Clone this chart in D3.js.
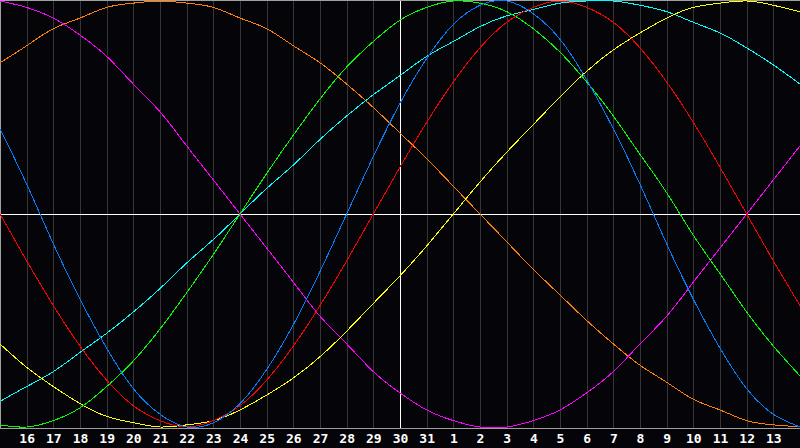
<!DOCTYPE html>
<html>
<head>
<meta charset="utf-8">
<script src="https://cdn.jsdelivr.net/npm/d3@7"></script>
<style>
  html, body { margin: 0; padding: 0; background: #050408; }
  svg { display: block; }
</style>
</head>
<body>
<div id="chart"></div>
<script>
// day numbers along the bottom, index 0 is the left edge, 30 the right edge
var dayLabels = ["15", "16", "17", "18", "19", "20", "21", "22", "23", "24", "25", "26", "27", "28", "29", "30",
  "31", "1", "2", "3", "4", "5", "6", "7", "8", "9", "10", "11", "12", "13", "14"];
var todayIndex = 15;

// curve values per day (percent, -100..100)
var blueValues = [40, 14, -14, -40, -63, -82, -94, -100, -98, -89, -73, -52, -27, 0, 27, 52, 73, 89, 98, 100, 94, 82, 63, 40, 14, -14, -40, -63, -82, -94, -100];
var redValues = [0, -22, -43, -62, -78, -90, -97, -100, -97, -90, -78, -62, -43, -22, 0, 22, 43, 62, 78, 90, 97, 100, 97, 90, 78, 62, 43, 22, 0, -22, -43];
var greenValues = [-99, -100, -97, -91, -81, -69, -54, -37, -19, 0, 19, 37, 54, 69, 81, 91, 97, 100, 99, 95, 87, 76, 62, 46, 28, 10, -10, -28, -46, -62, -76];
var magentaValues = [100, 97, 92, 84, 74, 61, 48, 32, 16, 0, -16, -32, -48, -61, -74, -84, -92, -97, -100, -100, -97, -92, -84, -74, -61, -48, -32, -16, 0, 16, 32];
var yellowValues = [-61, -72, -81, -89, -95, -98, -100, -99, -97, -92, -85, -77, -67, -55, -42, -29, -15, 0, 15, 29, 42, 55, 67, 77, 85, 92, 97, 99, 100, 98, 95];
var orangeValues = [71, 79, 87, 92, 97, 99, 100, 99, 97, 92, 87, 79, 71, 61, 50, 38, 26, 13, 0, -13, -26, -38, -50, -61, -71, -79, -87, -92, -97, -99, -100];
var cyanValues = [-88, -81, -74, -65, -56, -46, -35, -23, -12, 0, 12, 23, 35, 46, 56, 65, 74, 81, 88, 93, 96, 99, 100, 100, 98, 95, 90, 85, 78, 70, 61];

var seriesList = [
  { values: orangeValues, color: "#ff8000" },
  { values: magentaValues, color: "#ff00ff" },
  { values: cyanValues, color: "#00ffff" },
  { values: yellowValues, color: "#ffff00" },
  { values: greenValues, color: "#00ff00" },
  { values: redValues, color: "#ff0000" },
  { values: blueValues, color: "#0080ff" }
];

var width = 800;
var height = 448;

var plot = {
  top: 1,
  bottom: 428,
  left: 0,
  right: 800
};

var xScale = d3.scaleLinear().domain([0, dayLabels.length - 1]).range([plot.left, plot.right]);
var yScale = d3.scaleLinear().domain([-100, 100]).range([plot.bottom - 1, plot.top]);

var svg = d3.select("#chart")
  .append("svg")
  .attr("width", width)
  .attr("height", height)
  .style("background", "#050408");

//Grid lines and day labels
var tickDays = d3.range(1, dayLabels.length - 1);

svg.append("g")
  .attr("transform", "translate(0," + plot.bottom + ")")
  .call(d3.axisBottom(xScale).tickValues(tickDays).tickSize(-(plot.bottom - plot.top)).tickPadding(6)
    .tickFormat(function(d) { return dayLabels[d]; }))
  .call(function(g) {
    g.select(".domain").remove();
    g.selectAll(".tick line")
      .attr("stroke", function(d) { return d === todayIndex ? "#ffffff" : "#363636"; })
      .attr("shape-rendering", "crispEdges");
    g.selectAll(".tick text")
      .attr("fill", "#ffffff")
      .style("font-family", "'DejaVu Sans Mono', monospace")
      .style("font-weight", "bold")
      .style("font-size", "13px");
  });

//Frame on the left, top and bottom
svg.append("path")
  .attr("d", "M" + (plot.right) + "," + (plot.top - 0.5) + "H" + (plot.left + 0.5) + "V" + (plot.bottom + 0.5) + "H" + plot.right)
  .attr("fill", "none")
  .attr("stroke", "#a0a0a0")
  .attr("shape-rendering", "crispEdges");

//Zero line
svg.append("line")
  .attr("x1", plot.left).attr("x2", plot.right)
  .attr("y1", yScale(0)).attr("y2", yScale(0))
  .attr("stroke", "#ffffff")
  .attr("shape-rendering", "crispEdges");

//Curves
var line = d3.line()
  .x(function(value, index) { return xScale(index); })
  .y(function(value) { return yScale(value); })
  .curve(d3.curveNatural);

svg.selectAll(".curve")
  .data(seriesList)
  .enter()
  .append("path")
  .attr("class", "curve")
  .attr("d", function(s) { return line(s.values); })
  .attr("fill", "none")
  .attr("stroke", function(s) { return s.color; })
  .attr("stroke-width", 1)
  .attr("shape-rendering", "crispEdges");
</script>
</body>
</html>
